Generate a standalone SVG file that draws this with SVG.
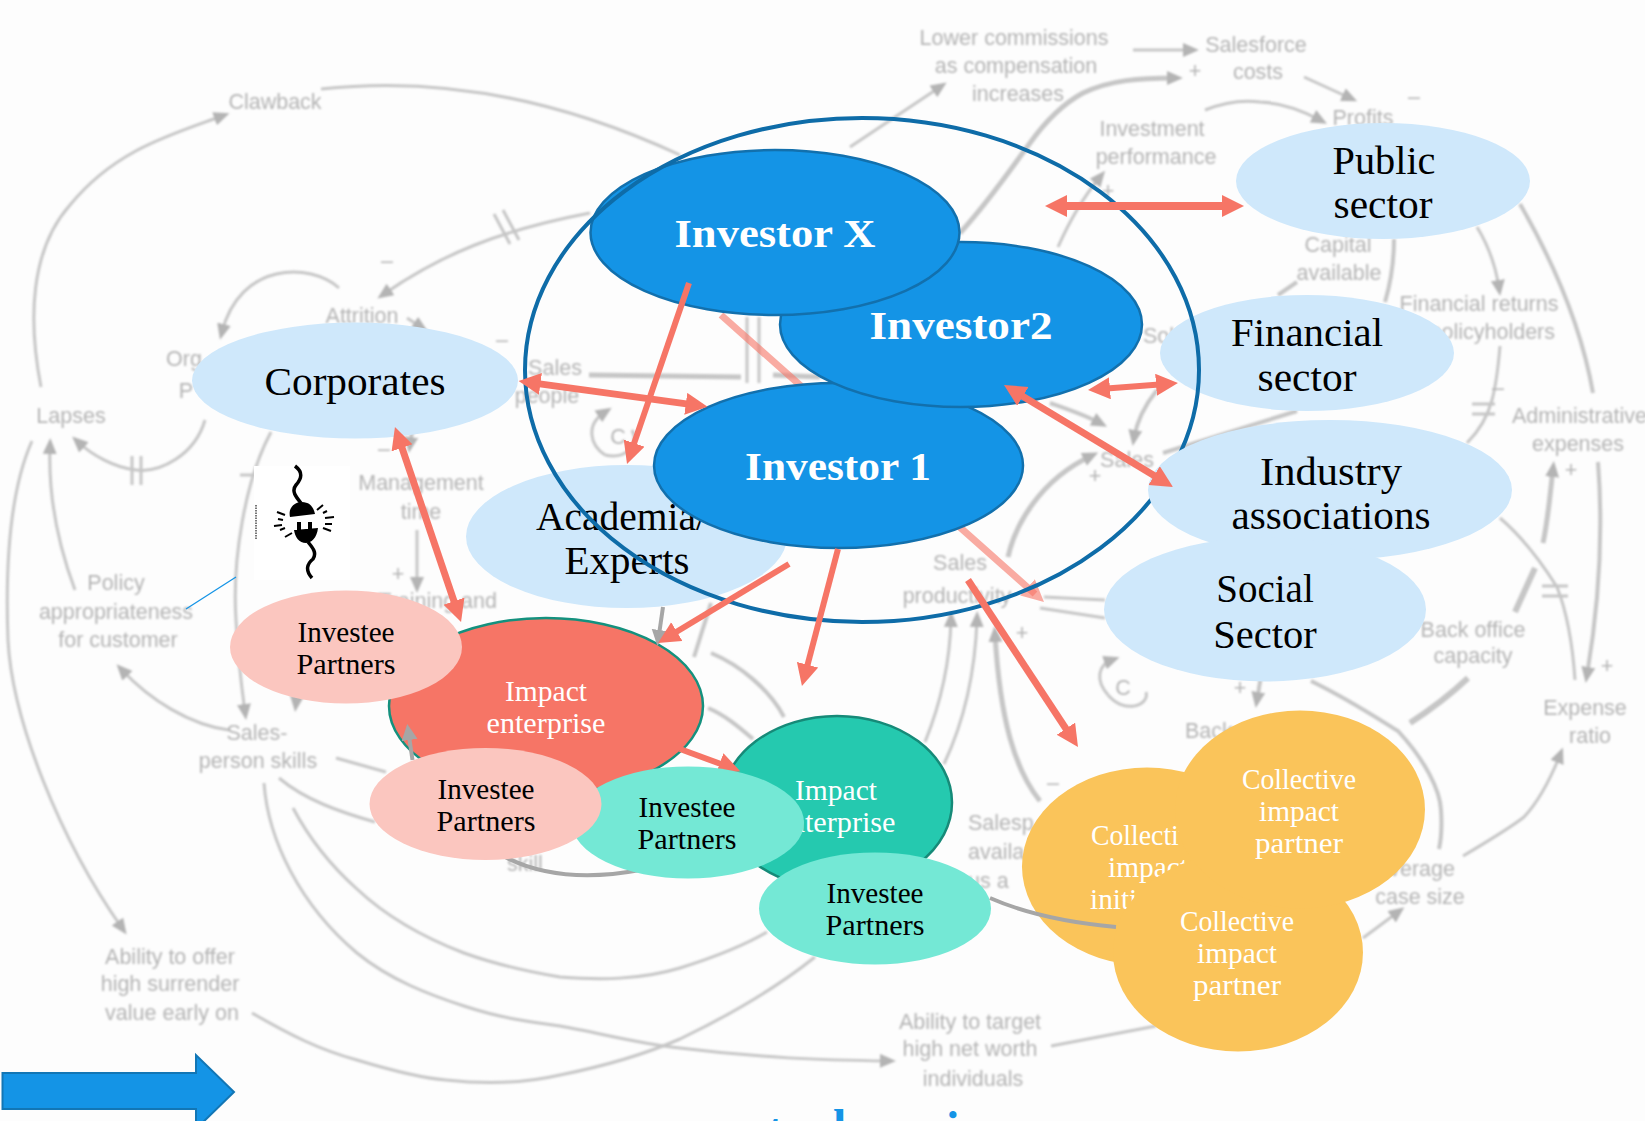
<svg xmlns="http://www.w3.org/2000/svg" width="1645" height="1121" viewBox="0 0 1645 1121">
<style>
.g{font-family:"Liberation Sans",Arial,sans-serif;font-size:21.5px;fill:#b4b4b4;text-anchor:middle}
.gl{fill:none;stroke:#c6c6c6;stroke-width:3}
.gh{fill:none;stroke:#c6c6c6;stroke-width:3;marker-end:url(#gm)}
.n{font-family:"Liberation Serif",Georgia,serif;text-anchor:middle}
.big{font-size:41px;fill:#000}
.inv{font-size:41px;font-weight:bold;fill:#fff}
.sm{font-size:30px;fill:#000}
.wh{font-size:30px;fill:#fff}
.sec{fill:#cfe8fb}
.ivs{fill:#1494e6;stroke:#1270ad;stroke-width:2.5}
.a{fill:none;stroke:#f67566;stroke-width:7}
.ga{fill:none;stroke:#a6a6a6;stroke-width:4}
.yl{fill:#fac45a}
.pk{fill:#fbc6bf}
.tl{fill:#74e8d5}
</style>
<defs>
<filter id="bl" x="-5%" y="-5%" width="110%" height="110%"><feGaussianBlur stdDeviation="1.15"/></filter>
<marker id="gm" markerUnits="userSpaceOnUse" markerWidth="18" markerHeight="16" refX="8" refY="7" orient="auto"><path d="M0 0L16 7L0 14z" fill="#b4b4b4"/></marker>
<marker id="h" markerUnits="userSpaceOnUse" markerWidth="24" markerHeight="24" refX="10" refY="11" orient="auto-start-reverse"><path d="M0 0L22 11L0 22z" fill="#f67566"/></marker>
<marker id="hf" markerUnits="userSpaceOnUse" markerWidth="24" markerHeight="24" refX="10" refY="11" orient="auto"><path d="M0 0L22 11L0 22z" fill="#f67566" fill-opacity=".6"/></marker>
<marker id="hg" markerUnits="userSpaceOnUse" markerWidth="18" markerHeight="18" refX="6" refY="8" orient="auto"><path d="M0 0L16 8L0 16z" fill="#a6a6a6"/></marker>
</defs>
<rect width="1645" height="1121" fill="#fdfdfd"/>
<g id="background-diagram" filter="url(#bl)">
<path class="gh" d="M41 387C28 320 30 250 70 205C115 150 170 135 222 116"/>
<path class="gl" d="M321 89C420 78 540 90 680 155"/>
<path class="gh" d="M590 213C500 230 440 255 384 294"/>
<path class="gl" d="M494 214L510 244M503 210L519 240"/>
<path class="gh" d="M339 288C310 262 240 262 222 332"/>
<path class="gh" d="M205 420C195 455 160 473 136 470C115 468 92 455 78 442"/>
<path class="gl" d="M132 456V485M141 456V485"/>
<path class="gh" d="M32 441C10 490 5 560 8 640C12 720 60 840 122 928"/>
<path class="gh" d="M75 590C60 550 48 500 50 446"/>
<path class="gh" d="M271 432C245 480 232 560 236 620C238 660 242 690 245 712"/>
<path class="gl" d="M240 475H262"/>
<path class="gh" d="M417 530V585"/>
<path class="gh" d="M229 730C190 725 150 700 122 670"/>
<path class="gl" d="M336 758L386 772M279 778C305 800 340 812 375 822"/>
<path class="gl" d="M293 808C310 840 330 865 357 889C390 920 430 940 464 953C500 966 530 972 560 977C600 980 640 980 680 968C715 957 745 945 767 932"/>
<path class="gh" d="M264 783C268 840 300 905 357 953C390 980 430 995 464 1006C500 1018 530 1022 560 1026C600 1033 640 1044 680 1048C760 1058 820 1060 888 1061"/>
<path class="gl" d="M252 1013C290 1035 320 1050 357 1060C390 1070 420 1078 446 1080C490 1085 530 1082 560 1075C610 1065 650 1052 680 1039C730 1015 780 985 815 957"/>
<path class="gh" d="M850 147L940 87"/>
<path class="gh" style="stroke-width:5" d="M960 233C990 200 1010 170 1030 143C1050 115 1070 100 1083 93C1110 80 1140 78 1175 78"/>
<path class="gh" d="M1133 50H1191"/>
<path class="gh" d="M1205 110C1225 102 1245 100 1260 102C1285 103 1305 112 1320 120"/>
<path class="gh" d="M1304 77L1350 98"/>
<path class="gh" d="M1058 247C1070 220 1085 195 1100 177"/>
<path class="gh" d="M1477 227C1488 245 1496 268 1499 288"/>
<path class="gl" style="stroke-width:4" d="M1520 204C1555 265 1582 330 1593 393"/>
<path class="gl" style="stroke-width:4" d="M1394 239C1394 265 1390 285 1385 302M1297 282L1278 295"/>
<path class="gl" d="M1500 346C1498 370 1496 385 1492 400C1488 415 1480 430 1467 443M1472 404H1495M1472 414H1495"/>
<path class="gl" d="M1500 518C1520 535 1540 560 1557 587C1568 615 1573 650 1575 680M1542 586H1568M1542 596H1568"/>
<path class="gh" style="stroke-width:5" d="M1543 543C1548 520 1550 495 1553 469"/>
<path class="gl" style="stroke-width:6" d="M1535 568L1515 612"/>
<path class="gh" style="stroke-width:4" d="M1598 462C1604 540 1598 610 1587 675"/>
<path class="gl" style="stroke-width:6" d="M1468 678C1450 695 1430 710 1410 723"/>
<path class="gl" style="stroke-width:4" d="M1311 681C1350 700 1380 720 1398 731C1425 760 1440 790 1441 810C1442 825 1441 840 1439 849"/>
<path class="gh" d="M1463 856C1490 840 1510 828 1524 817C1540 800 1552 775 1560 755"/>
<path class="gh" d="M1363 938L1398 912"/>
<path class="gl" d="M1051 1046L1156 1026"/>
<path class="gl" d="M1044 597L1105 600M1040 608L1105 618"/>
<path class="gh" style="stroke-width:5" d="M1008 557C1015 525 1040 480 1091 456"/>
<path class="gh" style="stroke-width:4" d="M1050 403C1070 410 1085 415 1100 423"/>
<path class="gh" style="stroke-width:4" d="M1157 390C1145 405 1137 420 1134 438"/>
<path class="gl" style="stroke-width:4" d="M1163 453L1297 411"/>
<path class="gh" d="M925 742C940 705 950 665 951 619"/>
<path class="gh" d="M944 764C960 730 975 680 977 619"/>
<path class="gh" style="stroke-width:5" d="M1040 801C1015 770 1000 720 995 634"/>
<path class="gl" style="stroke-width:4" d="M711 653C740 665 770 690 784 717M708 708C725 715 740 728 753 739M711 603L694 657"/>
<path class="gl" style="stroke-width:5" d="M589 375L741 377M773 375L820 377"/>
<path class="gl" d="M747 317V383M759 317V383"/>
<path class="gh" d="M605 455C590 445 585 425 605 412"/>
<path class="gl" d="M605 455C625 460 640 445 632 430"/>
<path class="gh" d="M1108 695C1095 680 1098 665 1112 660"/>
<path class="gl" d="M1108 695C1125 715 1150 705 1146 692"/>
<path class="gh" d="M407 318L421 327"/>
<path class="gh" style="stroke-width:4" d="M300 670L296 704"/>
<path class="gh" style="stroke-width:4" d="M413 425L410 445"/>
<path class="gh" style="stroke-width:4" d="M1262 670L1257 700"/>
<text class="g" x="275" y="109">Clawback</text>
<text class="g" x="362" y="323">Attrition</text>
<text class="g" x="184" y="366">Org</text>
<text class="g" x="186" y="398">P</text>
<text class="g" x="71" y="423">Lapses</text>
<text class="g" x="421" y="490">Management</text>
<text class="g" x="421" y="519">time</text>
<text class="g" x="497" y="608" style="text-anchor:end">Training and</text>
<text class="g" x="116" y="590">Policy</text>
<text class="g" x="116" y="619">appropriateness</text>
<text class="g" x="118" y="647">for customer</text>
<text class="g" x="257" y="740">Sales-</text>
<text class="g" x="258" y="768">person skills</text>
<text class="g" x="170" y="964">Ability to offer</text>
<text class="g" x="170" y="991">high surrender</text>
<text class="g" x="172" y="1020">value early on</text>
<text class="g" x="1014" y="45">Lower commissions</text>
<text class="g" x="1016" y="73">as compensation</text>
<text class="g" x="1018" y="101">increases</text>
<text class="g" x="1256" y="52">Salesforce</text>
<text class="g" x="1258" y="79">costs</text>
<text class="g" x="1152" y="136">Investment</text>
<text class="g" x="1156" y="164">performance</text>
<text class="g" x="1363" y="125">Profits</text>
<text class="g" x="1338" y="252">Capital</text>
<text class="g" x="1339" y="280">available</text>
<text class="g" x="1479" y="311">Financial returns</text>
<text class="g" x="1555" y="339" style="text-anchor:end">to policyholders</text>
<text class="g" x="1512" y="423" style="text-anchor:start">Administrative</text>
<text class="g" x="1578" y="451">expenses</text>
<text class="g" x="1473" y="637">Back office</text>
<text class="g" x="1473" y="663">capacity</text>
<text class="g" x="1585" y="715">Expense</text>
<text class="g" x="1590" y="743">ratio</text>
<text class="g" x="1455" y="876" style="text-anchor:end">Average</text>
<text class="g" x="1420" y="904">case size</text>
<text class="g" x="970" y="1029">Ability to target</text>
<text class="g" x="970" y="1056">high net worth</text>
<text class="g" x="973" y="1086">individuals</text>
<text class="g" x="960" y="570">Sales</text>
<text class="g" x="957" y="603">productivity</text>
<text class="g" x="555" y="375">Sales</text>
<text class="g" x="547" y="403">people</text>
<text class="g" x="1127" y="467">Sales</text>
<text class="g" x="1143" y="343" style="text-anchor:start">Sol</text>
<text class="g" x="1185" y="738" style="text-anchor:start">Back</text>
<text class="g" x="968" y="830" style="text-anchor:start">Salesp</text>
<text class="g" x="968" y="859" style="text-anchor:start">availa</text>
<text class="g" x="968" y="888" style="text-anchor:start">us  a</text>
<text class="g" x="507" y="871" style="text-anchor:start">skill</text>
<text class="g" x="618" y="444">C</text>
<text class="g" x="1123" y="695">C</text>
<text class="g" x="1195" y="78">+</text>
<text class="g" x="1108" y="198">+</text>
<text class="g" x="1414" y="104">–</text>
<text class="g" x="387" y="268">–</text>
<text class="g" x="502" y="347">–</text>
<text class="g" x="384" y="456">–</text>
<text class="g" x="398" y="581">+</text>
<text class="g" x="1095" y="483">+</text>
<text class="g" x="1240" y="695">+</text>
<text class="g" x="1571" y="477">+</text>
<text class="g" x="1607" y="673">+</text>
<text class="g" x="1022" y="640">+</text>
<text class="g" x="1498" y="395">–</text>
<text class="g" x="1053" y="790">–</text>
</g>
<g id="connector-faded"><path fill="none" stroke="#f67566" stroke-opacity=".6" stroke-width="7" marker-end="url(#hf)" d="M721 315L1035 594"/></g>
<g id="academia"><ellipse class="sec" cx="626.5" cy="536.5" rx="160.5" ry="71.5"/><text class="n big" x="536" y="530" style="text-anchor:start" textLength="171" lengthAdjust="spacingAndGlyphs">Academia/</text><text class="n big" x="627" y="574" textLength="125" lengthAdjust="spacingAndGlyphs">Experts</text></g>
<g id="financial"><ellipse class="sec" cx="1307" cy="353" rx="147" ry="58"/><text class="n big" x="1307" y="346" textLength="152" lengthAdjust="spacingAndGlyphs">Financial</text><text class="n big" x="1307" y="391" textLength="99" lengthAdjust="spacingAndGlyphs">sector</text></g>
<g id="corporates"><ellipse class="sec" cx="355" cy="380.5" rx="163" ry="58"/><text class="n big" x="355" y="395" textLength="181" lengthAdjust="spacingAndGlyphs">Corporates</text></g>
<g id="public"><ellipse class="sec" cx="1383" cy="181" rx="147" ry="58"/><text class="n big" x="1384" y="174" textLength="103" lengthAdjust="spacingAndGlyphs">Public</text><text class="n big" x="1383" y="218" textLength="99" lengthAdjust="spacingAndGlyphs">sector</text></g>
<g id="investor-1"><ellipse class="ivs" cx="838.5" cy="465.5" rx="184.5" ry="82.5"/><text class="n inv" x="838" y="480" textLength="186" lengthAdjust="spacingAndGlyphs">Investor 1</text></g>
<g id="investor-2"><ellipse class="ivs" cx="961" cy="324.5" rx="181" ry="82.5"/><text class="n inv" x="961" y="339" textLength="183" lengthAdjust="spacingAndGlyphs">Investor2</text></g>
<g id="investor-x"><ellipse class="ivs" cx="775" cy="232.5" rx="184.5" ry="82.5"/><text class="n inv" x="775" y="247" textLength="201" lengthAdjust="spacingAndGlyphs">Investor X</text></g>
<g id="investor-group"><ellipse cx="862" cy="370" rx="337" ry="252" fill="none" stroke="#0e6ca8" stroke-width="4"/></g>
<g id="industry"><ellipse class="sec" cx="1330" cy="490" rx="182" ry="70"/><text class="n big" x="1331" y="485" textLength="142" lengthAdjust="spacingAndGlyphs">Industry</text><text class="n big" x="1331" y="529" textLength="199" lengthAdjust="spacingAndGlyphs">associations</text></g>
<g id="social"><ellipse class="sec" cx="1265" cy="609.5" rx="161" ry="72"/><text class="n big" x="1265" y="602" textLength="97.500" lengthAdjust="spacingAndGlyphs">Social</text><text class="n big" x="1265" y="648" textLength="103.500" lengthAdjust="spacingAndGlyphs">Sector</text></g>
<g id="impact-red"><ellipse cx="546" cy="706" rx="157" ry="88" fill="#f67566" stroke="#14917e" stroke-width="2.5"/><text class="n wh" x="546" y="701" textLength="82" lengthAdjust="spacingAndGlyphs">Impact</text><text class="n wh" x="546" y="733" textLength="119" lengthAdjust="spacingAndGlyphs">enterprise</text></g>
<g id="impact-green"><ellipse cx="837" cy="802.500" rx="115" ry="86.500" fill="#25c9af" stroke="#168a78" stroke-width="2.5"/><text class="n wh" x="836" y="800" textLength="82" lengthAdjust="spacingAndGlyphs">Impact</text><text class="n wh" x="836" y="832" textLength="119" lengthAdjust="spacingAndGlyphs">enterprise</text></g>
<g id="connectors-under">
<path class="a" style="stroke-width:6" marker-end="url(#h)" d="M680 749L729 767"/>
<path class="ga" marker-end="url(#hg)" d="M412.500 760L408.700 734"/>
<path class="ga" d="M505 857Q560 885 640 870"/>
</g>
<g id="partners-1"><ellipse class="pk" cx="346" cy="647" rx="116" ry="56.500"/><text class="n sm" x="346" y="642" textLength="97" lengthAdjust="spacingAndGlyphs">Investee</text><text class="n sm" x="346" y="674" textLength="99" lengthAdjust="spacingAndGlyphs">Partners</text></g>
<g id="partners-3"><ellipse class="tl" cx="688" cy="822.500" rx="116" ry="56"/><text class="n sm" x="687" y="817" textLength="97" lengthAdjust="spacingAndGlyphs">Investee</text><text class="n sm" x="687" y="849" textLength="99" lengthAdjust="spacingAndGlyphs">Partners</text></g>
<g id="partners-2"><ellipse class="pk" cx="485.500" cy="804" rx="116" ry="56"/><text class="n sm" x="486" y="799" textLength="97" lengthAdjust="spacingAndGlyphs">Investee</text><text class="n sm" x="486" y="831" textLength="99" lengthAdjust="spacingAndGlyphs">Partners</text></g>
<g id="partners-4"><ellipse class="tl" cx="875" cy="908.500" rx="116" ry="56"/><text class="n sm" x="875" y="903" textLength="97" lengthAdjust="spacingAndGlyphs">Investee</text><text class="n sm" x="875" y="935" textLength="99" lengthAdjust="spacingAndGlyphs">Partners</text></g>
<g id="collective-initiative"><ellipse class="yl" cx="1147" cy="866.500" rx="125" ry="99"/><text class="n wh" x="1091" y="845" style="text-anchor:start" textLength="114" lengthAdjust="spacingAndGlyphs">Collective</text><text class="n wh" x="1108" y="877" style="text-anchor:start" textLength="80" lengthAdjust="spacingAndGlyphs">impact</text><text class="n wh" x="1090" y="909" style="text-anchor:start" textLength="104" lengthAdjust="spacingAndGlyphs">initiative</text></g>
<g id="connector-grey-right"><path class="ga" d="M990 898Q1040 920 1116 927"/></g>
<g id="collective-partner-2"><ellipse class="yl" cx="1238" cy="952.500" rx="125" ry="99"/><text class="n wh" x="1237" y="931" textLength="114" lengthAdjust="spacingAndGlyphs">Collective</text><text class="n wh" x="1237" y="963" textLength="80" lengthAdjust="spacingAndGlyphs">impact</text><text class="n wh" x="1237" y="995" textLength="88" lengthAdjust="spacingAndGlyphs">partner</text></g>
<g id="collective-partner-1"><ellipse class="yl" cx="1300" cy="809.500" rx="125" ry="99"/><text class="n wh" x="1299" y="789" textLength="114" lengthAdjust="spacingAndGlyphs">Collective</text><text class="n wh" x="1299" y="821" textLength="80" lengthAdjust="spacingAndGlyphs">impact</text><text class="n wh" x="1299" y="853" textLength="88" lengthAdjust="spacingAndGlyphs">partner</text></g>
<g id="connectors">
<path class="ga" marker-end="url(#hg)" d="M663 607L658.800 636"/>
<path class="a" style="stroke-width:8" marker-start="url(#h)" marker-end="url(#h)" d="M1057 206H1232"/>
<path class="a" style="stroke-width:6" marker-start="url(#h)" marker-end="url(#h)" d="M1100 389.100L1166 383.900"/>
<path class="a" marker-start="url(#h)" marker-end="url(#h)" d="M1014.300 391.200L1162.700 480.800"/>
<path class="a" marker-start="url(#h)" marker-end="url(#h)" d="M530.500 382.600L695.700 405.100"/>
<path class="a" style="stroke-width:6" marker-end="url(#h)" d="M689 283L630.900 452.600"/>
<path class="a" marker-start="url(#h)" marker-end="url(#h)" d="M398.800 438.400L457.200 610.600"/>
<path class="a" style="stroke-width:6" marker-end="url(#h)" d="M789 564L668.300 636.800"/>
<path class="a" style="stroke-width:6" marker-end="url(#h)" d="M838 549L805 674.400"/>
<path class="a" marker-end="url(#h)" d="M968 580L1071.400 737"/>
<path fill="none" stroke="#1494e6" stroke-width="1.200" d="M186 609L236 577"/>
</g>
<g id="plug-icon">
<rect x="254" y="466" width="96" height="114" fill="#fff"/>
<path d="M256 505V540" stroke="#777" stroke-width="2" stroke-dasharray="1.500 1" fill="none"/>
<path d="M295 466C303 472 302 478 296 485C291 491 296 497 301 503M308 542C313 548 317 553 313 559C307 564 305 570 312 578" fill="none" stroke="#000" stroke-width="3.500"/>
<path d="M290 517C288 508 294 502 302 502C310 502 314 508 315 514z" fill="#000"/>
<path d="M294 530L318 528C317 538 311 543 306 543C299 543 295 537 294 530zM297 522H301V531H297zM308 522H312V530H308z" fill="#000"/>
<path d="M277 512L285 515M278 519L283 520M274 526L282 525M280 530L285 528M285 537L292 533M317 510L323 505M323 513L327 511M325 518L334 517M325 524L332 524M323 528L331 531" stroke="#000" stroke-width="2" fill="none"/>
</g>
<g id="blue-arrow"><path d="M2.500 1073H196V1055L234 1092L196 1129V1109H2.500z" fill="#1494e6" stroke="#1276b5" stroke-width="2"/></g>
<g id="cut-off-title" font-family="'Liberation Serif',Georgia,serif" font-weight="bold" font-size="48" fill="#1494e6">
<text x="767" y="1147">t</text><text x="833" y="1143">l</text><text x="946" y="1145">i</text>
</g>
</svg>
